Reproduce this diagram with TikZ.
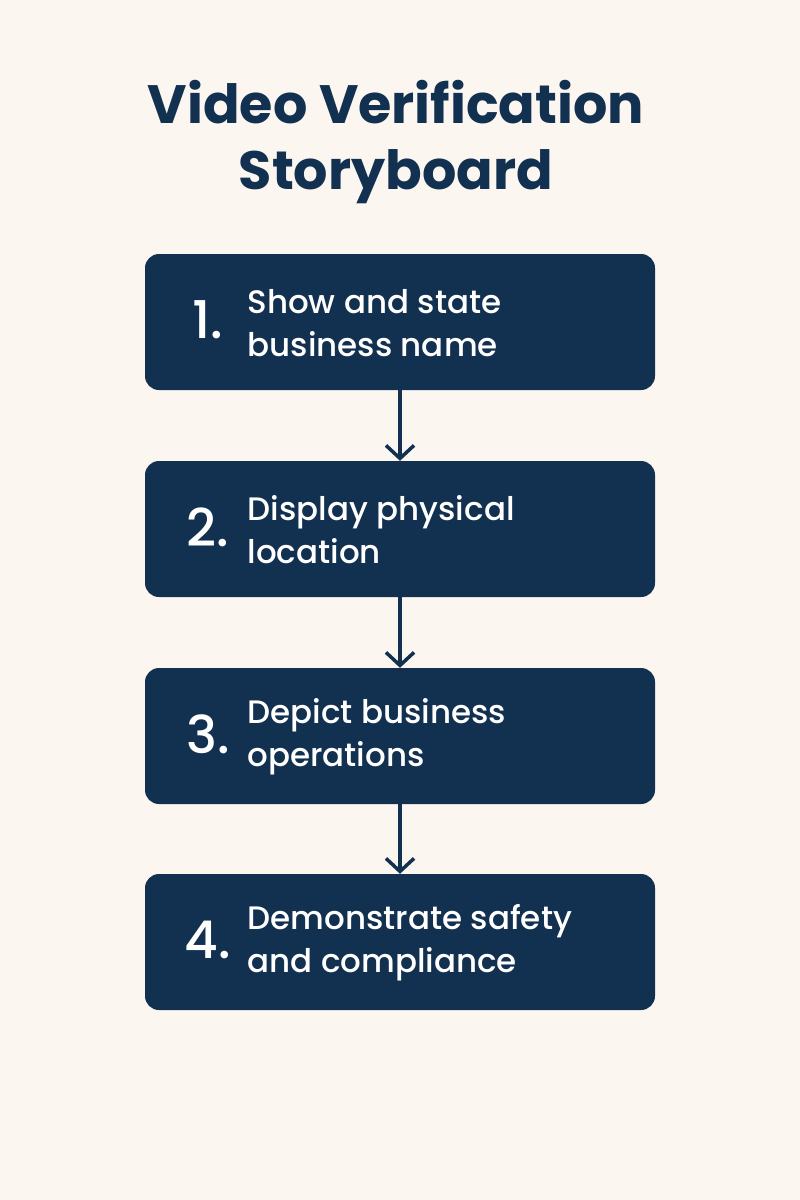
\documentclass[tikz,border=0pt]{standalone}
\usepackage{fontspec}
\setmainfont{Poppins}
\newfontfamily\pmed{Poppins Medium}
\usetikzlibrary{arrows.meta}
\definecolor{bg}{HTML}{FCF6F1}
\definecolor{navy}{HTML}{12304F}
\tikzset{
  stepbox/.style={fill=navy,rounded corners=14pt,minimum width=510pt,minimum height=136pt,inner sep=0pt},
  num/.style={text=white,font=\fontsize{52}{56}\pmed,anchor=center},
  lbl/.style={text=white,font=\fontsize{32.5}{43}\pmed,anchor=west,align=left},
  conn/.style={draw=navy,line width=3.5pt,-{Straight Barb[length=13pt,width=28pt,line width=3.5pt]}}
}
\begin{document}
\begin{tikzpicture}[x=1pt,y=-1pt]
\fill[bg] (0,0) rectangle (800,1200);
\useasboundingbox (0,0) rectangle (800,1200);
\node[text=navy,font=\fontsize{54}{66}\selectfont\bfseries,align=center] (title) at (396,142) {Video Verification\\Storyboard};
\node[stepbox] (b1) at (400,322) {};
\node[stepbox] (b2) at (400,529) {};
\node[stepbox] (b3) at (400,736) {};
\node[stepbox] (b4) at (400,942) {};
\foreach \i/\t in {1/{Show and state\\business name},2/{Display physical\\location},3/{Depict business\\operations},4/{Demonstrate safety\\and compliance}}{
  \node[num] (n\i) at ([xshift=-192pt,yshift=2pt]b\i.center) {\i.};
  \node[lbl] (t\i) at ([xshift=-156pt,yshift=-1pt]b\i.center) {\t};
}
\draw[conn] (b1.south) -- (b2.north);
\draw[conn] (b2.south) -- (b3.north);
\draw[conn] (b3.south) -- (b4.north);
\end{tikzpicture}
\end{document}
